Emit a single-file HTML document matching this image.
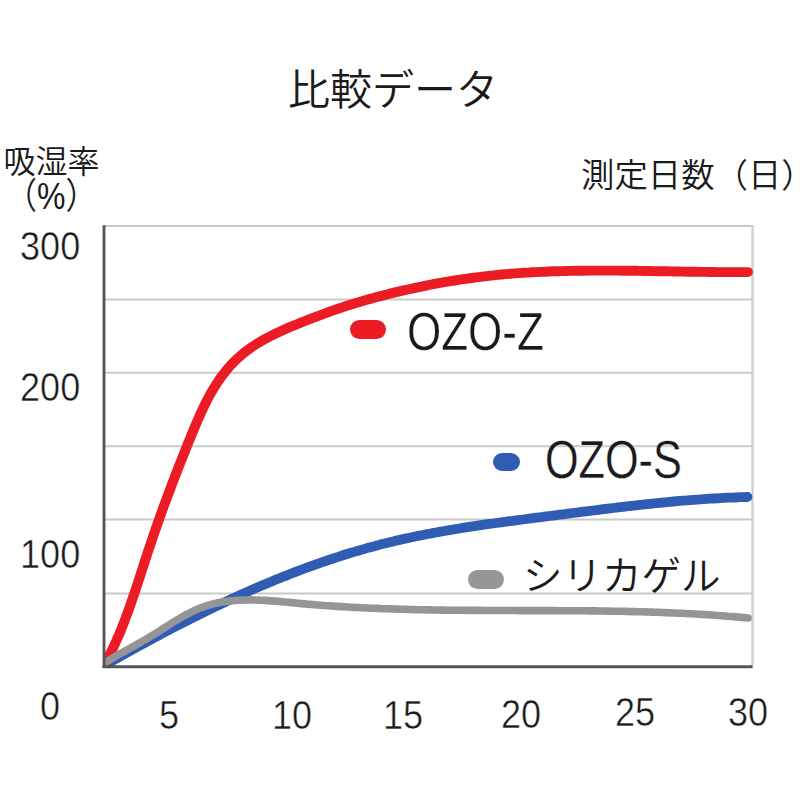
<!DOCTYPE html>
<html><head><meta charset="utf-8"><style>
html,body{margin:0;padding:0;background:#fff;width:800px;height:800px;overflow:hidden}
body{position:relative;font-family:"Liberation Sans","Noto Sans CJK JP",sans-serif;color:#1a1a1a}
svg{position:absolute;left:0;top:0}
.t{position:absolute;white-space:nowrap;line-height:1}
.jp{font-family:"Liberation Sans","Noto Sans CJK JP",sans-serif;font-weight:350}
.num{-webkit-text-stroke:0.5px #fff;font-size:41px;transform-origin:0 0;transform:scaleX(0.88)}
.pill{position:absolute;border-radius:10px}
</style></head><body>
<svg width="800" height="800" viewBox="0 0 800 800">
<line x1="104" y1="226" x2="753.5" y2="226" stroke="#c8c8c8" stroke-width="2"/>
<line x1="752.5" y1="225" x2="752.5" y2="666" stroke="#d0d0d0" stroke-width="2.4"/>
<line x1="105" y1="299.50" x2="752" y2="299.50" stroke="#cacaca" stroke-width="2"/><line x1="105" y1="372.80" x2="752" y2="372.80" stroke="#cacaca" stroke-width="2"/><line x1="105" y1="446.30" x2="752" y2="446.30" stroke="#cacaca" stroke-width="2"/><line x1="105" y1="519.60" x2="752" y2="519.60" stroke="#cacaca" stroke-width="2"/><line x1="105" y1="593.50" x2="752" y2="593.50" stroke="#cacaca" stroke-width="2"/>
<defs><clipPath id="c"><rect x="104" y="200" width="660" height="466.5"/></clipPath></defs>
<g clip-path="url(#c)">
<path d="M106.3 664.3 L109.2 662.6 L112.1 661.0 L115.0 659.3 L117.9 657.7 L120.8 656.0 L123.8 654.4 L126.7 652.8 L129.6 651.1 L132.6 649.5 L135.5 647.9 L138.5 646.3 L141.4 644.7 L144.3 643.1 L147.3 641.5 L150.3 639.9 L153.2 638.3 L156.2 636.7 L159.2 635.1 L162.1 633.5 L165.1 631.9 L168.1 630.4 L171.1 628.8 L174.1 627.2 L177.1 625.7 L180.1 624.2 L183.1 622.6 L186.1 621.1 L189.1 619.6 L192.1 618.0 L195.1 616.5 L198.1 615.0 L201.2 613.5 L204.2 612.0 L207.2 610.6 L210.3 609.1 L213.3 607.6 L216.3 606.1 L219.4 604.7 L222.4 603.3 L225.5 601.8 L228.6 600.4 L231.6 599.0 L234.7 597.6 L237.8 596.2 L240.8 594.8 L243.9 593.4 L247.0 592.0 L250.1 590.6 L253.2 589.3 L256.3 587.9 L259.4 586.6 L262.5 585.3 L265.6 584.0 L268.7 582.7 L271.8 581.4 L274.9 580.1 L278.1 578.8 L281.2 577.6 L284.3 576.3 L287.5 575.1 L290.6 573.8 L293.7 572.6 L296.9 571.4 L300.0 570.2 L303.2 569.0 L306.3 567.9 L309.5 566.7 L312.7 565.6 L315.9 564.4 L319.0 563.3 L322.2 562.2 L325.4 561.1 L328.6 560.0 L331.8 559.0 L335.0 557.9 L338.2 556.9 L341.4 555.8 L344.6 554.8 L347.8 553.8 L351.0 552.8 L354.2 551.9 L357.4 550.9 L360.7 550.0 L363.9 549.1 L367.1 548.1 L370.4 547.2 L373.6 546.4 L376.9 545.5 L380.1 544.6 L383.4 543.8 L386.6 543.0 L389.9 542.2 L393.2 541.4 L396.4 540.6 L399.7 539.9 L403.0 539.1 L406.3 538.4 L409.6 537.7 L412.9 537.0 L416.2 536.3 L419.5 535.6 L422.8 535.0 L426.1 534.3 L429.4 533.7 L432.7 533.1 L436.0 532.5 L439.3 531.9 L442.6 531.3 L445.9 530.7 L449.3 530.1 L452.6 529.6 L455.9 529.0 L459.3 528.5 L462.6 527.9 L465.9 527.4 L469.3 526.9 L472.6 526.4 L475.9 525.9 L479.3 525.4 L482.6 524.9 L486.0 524.4 L489.3 523.9 L492.6 523.5 L496.0 523.0 L499.3 522.6 L502.7 522.1 L506.0 521.7 L509.4 521.2 L512.7 520.8 L516.1 520.3 L519.4 519.9 L522.8 519.5 L526.1 519.0 L529.5 518.6 L532.8 518.2 L536.2 517.7 L539.5 517.3 L542.9 516.9 L546.2 516.4 L549.6 516.0 L552.9 515.6 L556.3 515.2 L559.6 514.7 L563.0 514.3 L566.3 513.9 L569.7 513.4 L573.0 513.0 L576.4 512.6 L579.7 512.2 L583.1 511.7 L586.4 511.3 L589.8 510.9 L593.1 510.5 L596.4 510.1 L599.8 509.6 L603.1 509.2 L606.5 508.8 L609.8 508.4 L613.2 508.0 L616.5 507.6 L619.9 507.2 L623.2 506.8 L626.5 506.4 L629.9 506.0 L633.2 505.7 L636.6 505.3 L639.9 504.9 L643.3 504.5 L646.6 504.2 L650.0 503.8 L653.3 503.5 L656.7 503.1 L660.0 502.8 L663.4 502.5 L666.7 502.2 L670.1 501.8 L673.4 501.5 L676.8 501.2 L680.1 500.9 L683.5 500.6 L686.8 500.4 L690.2 500.1 L693.6 499.8 L696.9 499.6 L700.3 499.3 L703.7 499.1 L707.0 498.9 L710.4 498.7 L713.7 498.5 L717.1 498.3 L720.5 498.1 L723.9 497.9 L727.2 497.7 L730.6 497.6 L734.0 497.5 L737.4 497.3 L740.7 497.2 L744.1 497.1 L747.5 497.0" fill="none" stroke="#2f5db3" stroke-width="9.8" stroke-linecap="round" stroke-linejoin="round"/>
<path d="M106.1 661.7 L108.1 657.9 L110.0 654.1 L111.9 650.3 L113.8 646.4 L115.6 642.5 L117.3 638.6 L119.0 634.7 L120.7 630.7 L122.3 626.7 L123.9 622.7 L125.4 618.6 L126.9 614.6 L128.4 610.5 L129.9 606.4 L131.3 602.3 L132.7 598.2 L134.1 594.1 L135.5 590.0 L136.9 585.9 L138.2 581.7 L139.6 577.6 L140.9 573.5 L142.3 569.3 L143.6 565.2 L144.9 561.1 L146.3 556.9 L147.6 552.8 L149.0 548.7 L150.4 544.6 L151.7 540.5 L153.1 536.4 L154.5 532.4 L155.9 528.3 L157.3 524.3 L158.8 520.2 L160.2 516.2 L161.7 512.1 L163.1 508.1 L164.6 504.1 L166.1 500.1 L167.6 496.0 L169.1 492.0 L170.6 488.0 L172.1 484.0 L173.6 480.0 L175.2 475.9 L176.7 471.9 L178.3 467.9 L179.9 463.9 L181.5 459.8 L183.1 455.8 L184.7 451.8 L186.3 447.7 L187.9 443.7 L189.6 439.6 L191.2 435.6 L192.9 431.5 L194.6 427.5 L196.3 423.4 L198.0 419.4 L199.8 415.4 L201.6 411.4 L203.5 407.4 L205.4 403.5 L207.4 399.6 L209.4 395.8 L211.5 392.0 L213.7 388.3 L216.0 384.7 L218.3 381.1 L220.7 377.6 L223.3 374.2 L225.9 370.9 L228.6 367.6 L231.4 364.5 L234.4 361.5 L237.4 358.5 L240.6 355.7 L243.8 353.0 L247.2 350.4 L250.6 347.9 L254.2 345.5 L257.8 343.2 L261.5 341.0 L265.2 338.8 L269.1 336.8 L272.9 334.9 L276.9 333.0 L280.8 331.1 L284.8 329.4 L288.8 327.6 L292.8 325.9 L296.9 324.3 L300.9 322.6 L304.9 321.0 L309.0 319.4 L313.0 317.9 L317.1 316.3 L321.1 314.8 L325.2 313.3 L329.2 311.8 L333.3 310.4 L337.4 309.0 L341.4 307.6 L345.5 306.3 L349.6 304.9 L353.7 303.7 L357.8 302.4 L361.9 301.2 L366.0 300.0 L370.1 298.9 L374.3 297.8 L378.4 296.6 L382.6 295.6 L386.8 294.5 L390.9 293.4 L395.1 292.4 L399.3 291.4 L403.5 290.4 L407.7 289.5 L412.0 288.6 L416.2 287.6 L420.4 286.8 L424.7 285.9 L428.9 285.0 L433.2 284.2 L437.4 283.4 L441.7 282.7 L446.0 281.9 L450.2 281.2 L454.5 280.5 L458.8 279.8 L463.1 279.2 L467.4 278.6 L471.7 278.0 L476.0 277.4 L480.3 276.9 L484.6 276.3 L488.9 275.8 L493.2 275.4 L497.5 274.9 L501.8 274.5 L506.1 274.1 L510.4 273.8 L514.7 273.4 L519.0 273.1 L523.3 272.8 L527.6 272.6 L531.9 272.3 L536.2 272.1 L540.5 271.9 L544.9 271.7 L549.2 271.5 L553.5 271.3 L557.8 271.2 L562.1 271.1 L566.4 271.0 L570.7 270.9 L575.1 270.8 L579.4 270.7 L583.7 270.7 L588.0 270.6 L592.3 270.6 L596.6 270.6 L601.0 270.6 L605.3 270.6 L609.6 270.6 L613.9 270.6 L618.3 270.6 L622.6 270.7 L626.9 270.7 L631.2 270.8 L635.5 270.8 L639.9 270.9 L644.2 271.0 L648.5 271.0 L652.8 271.1 L657.2 271.2 L661.5 271.2 L665.8 271.3 L670.1 271.4 L674.5 271.5 L678.8 271.5 L683.1 271.6 L687.4 271.7 L691.8 271.8 L696.1 271.8 L700.4 271.9 L704.8 271.9 L709.1 272.0 L713.4 272.0 L717.7 272.1 L722.1 272.1 L726.4 272.1 L730.7 272.1 L735.0 272.1 L739.4 272.1 L743.7 272.1 L748.0 272.1" fill="none" stroke="#ec1c24" stroke-width="9.9" stroke-linecap="round" stroke-linejoin="round"/>
<path d="M105.5 662.3 L108.4 660.6 L111.2 658.9 L114.1 657.2 L117.0 655.5 L119.8 653.9 L122.7 652.3 L125.5 650.8 L128.3 649.2 L131.1 647.6 L134.0 646.1 L136.8 644.5 L139.6 642.9 L142.4 641.3 L145.3 639.7 L148.1 638.0 L150.9 636.3 L153.8 634.5 L156.6 632.7 L159.5 630.9 L162.4 629.1 L165.3 627.2 L168.2 625.4 L171.1 623.6 L174.0 621.8 L176.9 620.0 L179.9 618.2 L182.8 616.5 L185.8 614.9 L188.8 613.3 L191.8 611.8 L194.8 610.4 L197.8 609.0 L200.9 607.8 L204.0 606.7 L207.1 605.6 L210.2 604.7 L213.3 603.9 L216.4 603.1 L219.6 602.5 L222.7 601.9 L225.9 601.4 L229.1 601.0 L232.3 600.7 L235.5 600.4 L238.8 600.2 L242.0 600.1 L245.2 600.0 L248.5 599.9 L251.8 599.9 L255.0 600.0 L258.3 600.1 L261.6 600.2 L264.9 600.4 L268.2 600.6 L271.5 600.9 L274.8 601.1 L278.1 601.4 L281.5 601.7 L284.8 602.0 L288.1 602.3 L291.4 602.6 L294.8 602.9 L298.1 603.3 L301.4 603.6 L304.7 603.9 L308.1 604.2 L311.4 604.4 L314.7 604.7 L318.0 605.0 L321.3 605.2 L324.7 605.5 L328.0 605.7 L331.3 605.9 L334.6 606.2 L337.9 606.4 L341.3 606.6 L344.6 606.8 L347.9 607.0 L351.2 607.2 L354.5 607.4 L357.8 607.5 L361.2 607.7 L364.5 607.9 L367.8 608.0 L371.1 608.2 L374.4 608.3 L377.7 608.4 L381.0 608.6 L384.4 608.7 L387.7 608.8 L391.0 608.9 L394.3 609.0 L397.6 609.1 L400.9 609.2 L404.2 609.3 L407.5 609.4 L410.8 609.5 L414.2 609.6 L417.5 609.7 L420.8 609.7 L424.1 609.8 L427.4 609.9 L430.7 609.9 L434.0 610.0 L437.3 610.0 L440.6 610.1 L443.9 610.1 L447.2 610.2 L450.5 610.2 L453.8 610.2 L457.1 610.3 L460.4 610.3 L463.7 610.3 L467.1 610.4 L470.4 610.4 L473.7 610.4 L477.0 610.4 L480.3 610.4 L483.6 610.5 L486.9 610.5 L490.2 610.5 L493.5 610.5 L496.8 610.5 L500.1 610.5 L503.4 610.5 L506.7 610.5 L510.0 610.5 L513.3 610.5 L516.6 610.5 L519.9 610.6 L523.2 610.6 L526.5 610.6 L529.8 610.6 L533.1 610.6 L536.4 610.6 L539.7 610.6 L543.0 610.6 L546.3 610.6 L549.6 610.6 L552.9 610.6 L556.2 610.6 L559.5 610.7 L562.8 610.7 L566.1 610.7 L569.4 610.7 L572.7 610.7 L576.0 610.7 L579.3 610.8 L582.6 610.8 L586.0 610.8 L589.3 610.9 L592.6 610.9 L595.9 610.9 L599.2 611.0 L602.5 611.0 L605.8 611.1 L609.1 611.1 L612.4 611.2 L615.7 611.2 L619.0 611.3 L622.3 611.3 L625.6 611.4 L628.9 611.5 L632.2 611.6 L635.5 611.6 L638.8 611.7 L642.1 611.8 L645.4 611.9 L648.7 612.0 L652.0 612.1 L655.4 612.2 L658.7 612.3 L662.0 612.5 L665.3 612.6 L668.6 612.7 L671.9 612.9 L675.2 613.0 L678.5 613.2 L681.8 613.3 L685.1 613.5 L688.5 613.7 L691.8 613.8 L695.1 614.0 L698.4 614.2 L701.7 614.4 L705.0 614.6 L708.3 614.8 L711.6 615.0 L715.0 615.3 L718.3 615.5 L721.6 615.7 L724.9 616.0 L728.2 616.3 L731.5 616.5 L734.9 616.8 L738.2 617.1 L741.5 617.4 L744.8 617.7 L748.1 618.0" fill="none" stroke="#959597" stroke-width="7.6" stroke-linecap="round" stroke-linejoin="round"/>
</g>
<line x1="104" y1="225.3" x2="104" y2="668" stroke="#565656" stroke-width="2.9"/>
<line x1="102.6" y1="666.75" x2="752.6" y2="666.75" stroke="#555" stroke-width="2.8"/>
</svg>
<div class="t jp" style="left:288px;top:70px;font-size:42px">比較データ</div>
<div class="t jp" style="left:3.5px;top:146px;font-size:32px">吸湿率</div>
<div class="t jp" style="left:5px;top:178px;font-size:32px;transform-origin:0 0;transform:scaleY(1.13)">（%）</div>
<div class="t jp" style="left:581px;top:158.5px;font-size:33.4px">測定日数（日）</div>
<div class="t num" style="left:20px;top:226px">300</div>
<div class="t num" style="left:20px;top:367px">200</div>
<div class="t num" style="left:20px;top:534px">100</div>
<div class="t num" style="left:40px;top:686px">0</div>
<div class="t num" style="left:159px;top:695px">5</div>
<div class="t num" style="left:272px;top:695px">10</div>
<div class="t num" style="left:382.5px;top:695px">15</div>
<div class="t num" style="left:500.5px;top:694px">20</div>
<div class="t num" style="left:615px;top:692px">25</div>
<div class="t num" style="left:728px;top:692px">30</div>
<div class="pill" style="left:349.8px;top:320px;width:36px;height:19.4px;background:#ec1c24"></div>
<div class="pill" style="left:493px;top:452.8px;width:26.8px;height:18.7px;background:#2f5db3"></div>
<div class="pill" style="left:468px;top:570.2px;width:35.7px;height:18.6px;background:#969699"></div>
<div class="t num" style="left:407px;top:305px;font-size:53px;-webkit-text-stroke:0.3px #fff;transform:scaleX(0.83)">OZO-Z</div>
<div class="t num" style="left:544.5px;top:433px;font-size:53px;-webkit-text-stroke:0.3px #fff;transform:scaleX(0.815)">OZO-S</div>
<div class="t jp" style="left:523px;top:557px;font-size:39.5px">シリカゲル</div>
</body></html>
